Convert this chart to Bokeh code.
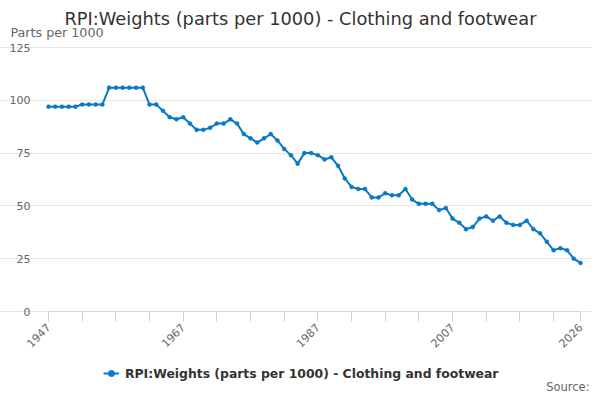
import math
from bokeh.plotting import figure
from bokeh.models import (ColumnDataSource, Range1d, FixedTicker, Label, Legend,
                          LegendItem, CustomJSTickFormatter)
from bokeh.embed import file_html
from bokeh.resources import INLINE

# ---- data ----
years = list(range(1947, 2027))
weights = [
    97, 97, 97, 97, 97,            # 1947-1951
    98, 98, 98, 98,                # 1952-1955
    106, 106, 106, 106, 106, 106,  # 1956-1961
    98, 98, 95, 92, 91, 92, 89, 86, 86, 87,   # 1962-1971
    89, 89, 91, 89, 84, 82, 80, 82, 84, 81,   # 1972-1981
    77, 74, 70, 75, 75, 74, 72, 73, 69, 63,   # 1982-1991
    59, 58, 58, 54, 54, 56, 55, 55, 58, 53,   # 1992-2001
    51, 51, 51, 48, 49, 44, 42, 39, 40, 44,   # 2002-2011
    45, 43, 45, 42, 41, 41, 43, 39, 37, 33,   # 2012-2021
    29, 30, 29, 25, 23,                       # 2022-2026
]
y_ticks = [0, 25, 50, 75, 100, 125]
x_label_years = [1947, 1967, 1987, 2007, 2026]
x_minor_years = list(range(1952, 2026, 5))

title_text = "RPI:Weights (parts per 1000) - Clothing and footwear"
series_name = "RPI:Weights (parts per 1000) - Clothing and footwear"
y_unit = "Parts per 1000"
source_text = "Source:"

LINE = "#0a78c2"
FONT = "DejaVu Sans"

# ---- layout: canvas size and where the plotting area sits (pixels) ----
W, H = 592, 392
PX_LEFT, PX_RIGHT, PX_TOP, PX_BOTTOM = 48, 580, 47, 311
x_lo, x_hi = years[0], years[-1]
y_lo, y_hi = y_ticks[0], y_ticks[-1]
sx = (PX_RIGHT - PX_LEFT) / (x_hi - x_lo)
sy = (PX_BOTTOM - PX_TOP) / (y_hi - y_lo)
x_range = Range1d(x_lo - PX_LEFT / sx, x_lo + (W - PX_LEFT) / sx)
y_range = Range1d(y_lo - (H - PX_BOTTOM) / sy, y_hi + PX_TOP / sy)

src = ColumnDataSource(dict(year=years, weight=weights))

p = figure(width=W, height=H, output_backend="svg", toolbar_location=None,
           title=None, x_range=x_range, y_range=y_range,
           min_border_left=0, min_border_right=0, min_border_top=0,
           min_border_bottom=0)
p.outline_line_color = None
p.background_fill_color = "white"
p.border_fill_color = "white"

r_line = p.line("year", "weight", source=src, line_color=LINE, line_width=2)
r_pts = p.scatter("year", "weight", source=src, size=4, fill_color=LINE,
                  line_color=LINE, line_width=0.5)

# x axis, fixed at y = 0
xa = p.xaxis[0]
xa.fixed_location = y_lo
xa.bounds = (x_lo, x_hi)
xa.ticker = FixedTicker(ticks=x_label_years, minor_ticks=x_minor_years)
xa.axis_line_color = "#ccd6eb"
xa.major_tick_line_color = "#ccd6eb"
xa.minor_tick_line_color = "#ccd6eb"
xa.major_tick_out = 10
xa.major_tick_in = 0
xa.minor_tick_out = 10
xa.minor_tick_in = 0
xa.major_label_orientation = math.pi / 4
xa.major_label_text_font = FONT
xa.major_label_text_font_size = "11px"
xa.major_label_text_color = "#666666"
xa.major_label_standoff = 4
xa.formatter = CustomJSTickFormatter(code="return String(tick)")

# y axis, fixed at the first year
ya = p.yaxis[0]
ya.fixed_location = x_lo
ya.ticker = FixedTicker(ticks=y_ticks, minor_ticks=[])
ya.axis_line_color = None
ya.major_tick_line_color = None
ya.minor_tick_line_color = None
ya.major_tick_out = 0
ya.major_tick_in = 0
ya.major_label_standoff = 18
ya.major_label_text_font = FONT
ya.major_label_text_font_size = "11px"
ya.major_label_text_color = "#666666"

p.xgrid.grid_line_color = None
p.ygrid.grid_line_color = "#e6e6e6"
p.ygrid.ticker = FixedTicker(ticks=y_ticks)
p.ygrid.bounds = (x_lo, x_hi)

# texts (screen units measured from the canvas bottom-left)
p.add_layout(Label(x=300, y=H - 18, x_units="screen", y_units="screen",
                   text=title_text, text_align="center", text_baseline="middle",
                   text_font=FONT, text_font_size="17.8px", text_color="#333333"))
p.add_layout(Label(x=10, y=H - 32, x_units="screen", y_units="screen",
                   text=y_unit, text_align="left", text_baseline="middle",
                   text_font=FONT, text_font_size="12.7px", text_color="#666666"))
p.add_layout(Label(x=589, y=H - 386, x_units="screen", y_units="screen",
                   text=source_text, text_align="right", text_baseline="middle",
                   text_font=FONT, text_font_size="11.5px", text_color="#666666"))

legend = Legend(items=[LegendItem(label=series_name, renderers=[r_line, r_pts])],
                location=(103, H - 381), orientation="horizontal",
                border_line_color=None, background_fill_alpha=0,
                padding=0, margin=0, spacing=0,
                glyph_width=16, glyph_height=16, label_standoff=6,
                label_text_font=FONT, label_text_font_size="12.4px",
                label_text_font_style="bold", label_text_color="#333333")
p.add_layout(legend, "center")

open("out.html", "w").write(file_html(p, INLINE))
